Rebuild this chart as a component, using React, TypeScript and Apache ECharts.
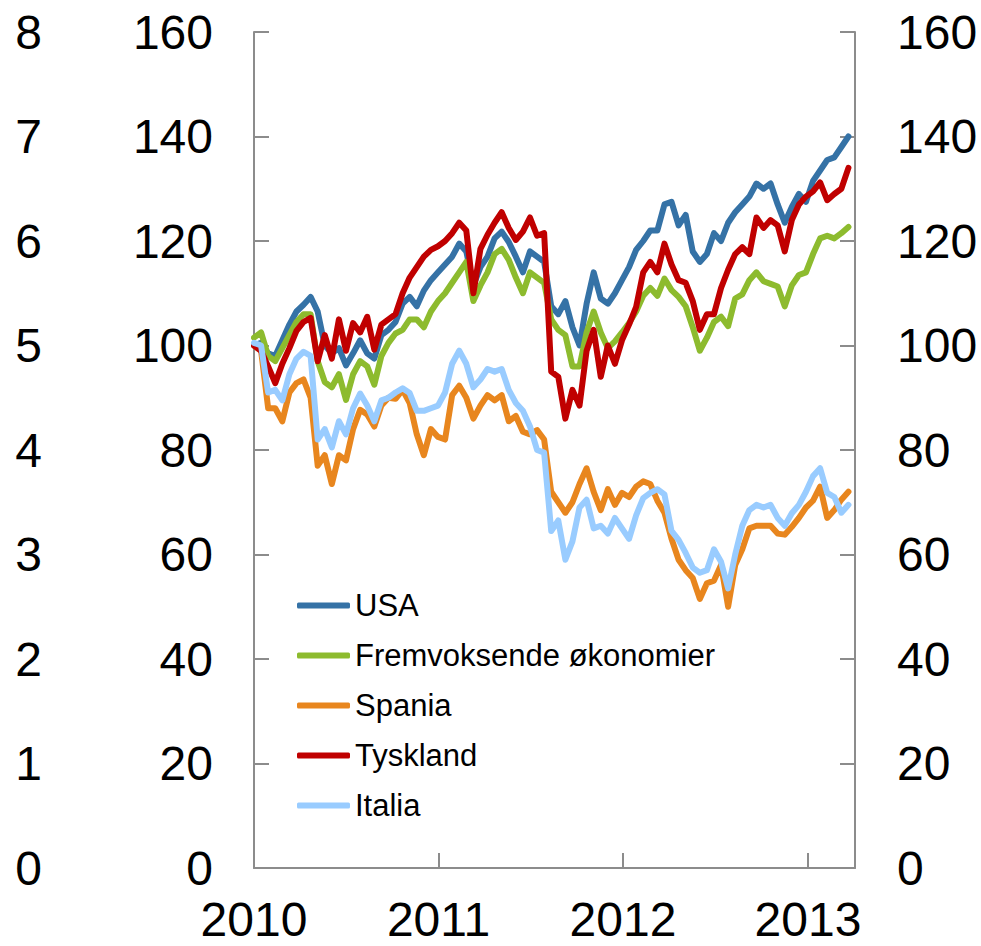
import React, { useEffect, useRef } from "react";
import * as echarts from "echarts";

const dates = [
  "2010-01-01","2010-01-15","2010-01-29","2010-02-12","2010-02-26","2010-03-12","2010-03-26","2010-04-09","2010-04-23","2010-05-07",
  "2010-05-21","2010-06-04","2010-06-18","2010-07-02","2010-07-16","2010-07-30","2010-08-13","2010-08-27","2010-09-10","2010-09-24",
  "2010-10-08","2010-10-22","2010-11-05","2010-11-19","2010-12-03","2010-12-17","2010-12-31",
  "2011-01-14","2011-01-28","2011-02-11","2011-02-25","2011-03-11","2011-03-25","2011-04-08","2011-04-22","2011-05-06","2011-05-20",
  "2011-06-03","2011-06-17","2011-07-01","2011-07-15","2011-07-29","2011-08-12","2011-08-26","2011-09-09","2011-09-23","2011-10-07",
  "2011-10-21","2011-11-04","2011-11-18","2011-12-02","2011-12-16","2011-12-30",
  "2012-01-13","2012-01-27","2012-02-10","2012-02-24","2012-03-09","2012-03-23","2012-04-06","2012-04-20","2012-05-04","2012-05-18",
  "2012-06-01","2012-06-15","2012-06-29","2012-07-13","2012-07-27","2012-08-10","2012-08-24","2012-09-07","2012-09-21","2012-10-05",
  "2012-10-19","2012-11-02","2012-11-16","2012-11-30","2012-12-14","2012-12-28",
  "2013-01-11","2013-01-25","2013-02-08","2013-02-22","2013-03-08","2013-03-22",
];

const usa = [
  100, 100.5, 98.5, 98, 101, 104, 106.5, 107.8, 109.3, 106.5,
  100, 98.5, 99.5, 96.2, 98.5, 101, 98.5, 97.5, 102, 103,
  104.5, 108, 109.3, 107.5, 110.5, 112.5, 114,
  115.5, 117, 119.5, 118, 111.5, 115, 117, 120.5, 121.8, 119.8,
  117, 114, 118, 117, 116, 107.5, 106, 108.5, 103.5, 100,
  108, 114, 109, 108, 110, 112.5,
  115, 118.3, 120, 122, 122, 127, 127.5, 123, 125, 118,
  116, 117.5, 121.5, 120, 123.5, 125.5, 127, 128.5, 131, 130,
  131, 127, 123.5, 126.5, 129, 127.5,
  131.5, 133.5, 135.5, 136, 138, 140,
];

const fremvoksende = [
  101.5, 102.5, 98, 97, 99.5, 102, 104.5, 106, 106, 97,
  93, 92, 94.5, 89.6, 94.5, 97, 96, 92.5, 98, 100.5,
  102.3, 103, 105, 105, 103.5, 106.5, 108.5,
  110, 112, 114, 116, 108.5, 111.5, 114, 117.5, 118.5, 116.4,
  113, 110, 114, 113, 112, 105, 103, 102, 96, 96,
  102.5, 106.5, 102.5, 99.5, 100.8, 102.5,
  104.3, 106.5, 109.5, 111, 109.5, 112.8, 110.6, 109.3, 107.5, 103.5,
  99, 101.5, 104.5, 105.5, 103.7, 109, 109.8, 112.5, 114, 112.3,
  111.8, 111.3, 107.5, 111.5, 113.5, 114,
  117.5, 120.5, 121, 120.5, 121.5, 122.7,
];

const spania = [
  100, 99, 88, 88, 85.5, 91, 92.8, 93.5, 90, 77,
  79, 73.5, 79, 78, 84, 87.7, 86.8, 84.5, 88.5, 90,
  89.8, 91.5, 89, 83, 79, 84, 82.5,
  82, 90.5, 92.3, 90, 86, 88.5, 90.5, 89.5, 90.5, 85.5,
  86.5, 83.5, 83, 83.8, 82, 72, 70, 68, 70, 73.5,
  76.5, 72, 68.5, 72.5, 69.5, 71.8,
  71, 73, 74, 73.5, 70.3, 68, 63, 59, 57, 55.5,
  51.5, 54.5, 55, 58, 50, 58, 61, 65, 65.5, 65.5,
  65.5, 64, 63.8, 65.3, 67, 69,
  70.3, 73, 67, 68.5, 70.5, 72,
];

const tyskland = [
  100, 99, 96, 92.8, 96.5, 99.5, 102.8, 104.5, 105.3, 97,
  102, 97.5, 105, 99, 104.3, 102.5, 105.5, 99.2, 104, 105,
  106, 110, 113, 115, 117, 118.3, 119,
  120, 121.5, 123.5, 122, 110, 118.5, 121.2, 123.5, 125.5, 122.5,
  120.2, 121.8, 124.5, 121, 121.5, 95, 94, 86, 91.5, 88.5,
  99, 103, 94, 100, 96.5, 101,
  104, 107.4, 114, 116, 114, 119.5, 115.5, 112.5, 112, 108.5,
  103, 106, 106, 111, 114.5, 117.5, 118.8, 117.5, 124.5, 122.5,
  124, 123, 118, 124, 127, 128.5,
  129.5, 131.2, 127.8, 129, 130, 134,
];

const italia = [
  100.5, 100, 91, 91.5, 89.5, 94.5, 97.5, 98.8, 98, 82,
  84, 80.5, 85.5, 83, 88, 90.8, 88.5, 85.5, 89.5, 90,
  91, 91.8, 90.9, 87.5, 87.5, 88, 88.5,
  91, 96.5, 99, 96.5, 92, 93.5, 95.5, 95, 95.5, 91.5,
  89, 87.5, 84.5, 80, 79.5, 64.5, 66.5, 59, 62.5, 69,
  70.5, 65, 65.5, 64, 67, 65,
  63, 67.5, 70.8, 71.8, 72.5, 71.5, 64.5, 62.8, 60.3, 57.5,
  56.5, 57, 61, 58.6, 53.5, 60, 65.5, 68.5, 69.5, 69,
  69.5, 67, 65.5, 67.9, 69.5, 72,
  75, 76.5, 71.8, 71, 68, 69.5,
];

const seriesNames = ["USA", "Fremvoksende økonomier", "Spania", "Tyskland", "Italia"];
const seriesValues = [usa, fremvoksende, spania, tyskland, italia];
const seriesColors = ["#3572A6", "#8DBB2E", "#E8861E", "#C00000", "#99CCFF"];

const FONT = "'Liberation Sans', Arial, Helvetica, sans-serif";
const AXIS_GRAY = "#8C8C8C";

export default function App() {
  const ref = useRef<HTMLDivElement>(null);

  useEffect(() => {
    if (!ref.current) return;
    const chart = echarts.init(ref.current, undefined, { renderer: "svg" });
    const yearMs = 365 * 24 * 3600 * 1000;

    const option: any = {
      animation: false,
      backgroundColor: "#ffffff",
      textStyle: { fontFamily: FONT },
      grid: { left: 254, right: 126, top: 32, bottom: 78, containLabel: false },
      legend: {
        orient: "vertical",
        left: 297,
        top: 590,
        padding: 0,
        itemGap: 19,
        itemWidth: 53,
        itemHeight: 6,
        icon: "roundRect",
        data: seriesNames,
        textStyle: { fontFamily: FONT, fontSize: 31, color: "#000", lineHeight: 31 },
      },
      xAxis: {
        type: "time",
        min: "2010-01-01",
        max: "2013-04-04",
        minInterval: yearMs,
        maxInterval: yearMs * 1.01,
        axisLine: { show: true, lineStyle: { color: AXIS_GRAY, width: 2 } },
        axisTick: { show: true, inside: true, length: 15, lineStyle: { color: AXIS_GRAY, width: 2 } },
        splitLine: { show: false },
        axisLabel: {
          fontFamily: FONT,
          fontSize: 48,
          color: "#000",
          margin: 27,
          showMinLabel: true,
          formatter: (v: number) => String(new Date(v).getFullYear()),
        },
      },
      yAxis: [
        {
          type: "value",
          position: "left",
          min: 0,
          max: 160,
          interval: 20,
          axisLine: { show: true, lineStyle: { color: AXIS_GRAY, width: 2 } },
          axisTick: { show: true, inside: true, length: 15, lineStyle: { color: AXIS_GRAY, width: 2 } },
          splitLine: { show: false },
          axisLabel: { fontFamily: FONT, fontSize: 48, color: "#000", margin: 41 },
        },
        {
          type: "value",
          position: "left",
          offset: 204,
          min: 0,
          max: 8,
          interval: 1,
          axisLine: { show: false },
          axisTick: { show: false },
          splitLine: { show: false },
          axisLabel: { fontFamily: FONT, fontSize: 48, color: "#000", margin: 8 },
        },
        {
          type: "value",
          position: "right",
          min: 0,
          max: 160,
          interval: 20,
          axisLine: { show: true, lineStyle: { color: AXIS_GRAY, width: 2 } },
          axisTick: { show: true, inside: true, length: 15, lineStyle: { color: AXIS_GRAY, width: 2 } },
          splitLine: { show: false },
          axisLabel: { fontFamily: FONT, fontSize: 48, color: "#000", margin: 42 },
        },
      ],
      series: seriesNames.map((name, k) => ({
        name,
        type: "line",
        yAxisIndex: 0,
        showSymbol: false,
        symbol: "none",
        color: seriesColors[k],
        z: 2 + k,
        lineStyle: { width: 6, color: seriesColors[k], cap: "round", join: "round" },
        data: dates.map((d, i) => [d, seriesValues[k][i]]),
      })),
    };

    chart.setOption(option);
    return () => chart.dispose();
  }, []);

  return (
    <div
      ref={ref}
      style={{ position: "fixed", left: 0, top: 0, width: 981, height: 946, background: "#fff" }}
    />
  );
}
